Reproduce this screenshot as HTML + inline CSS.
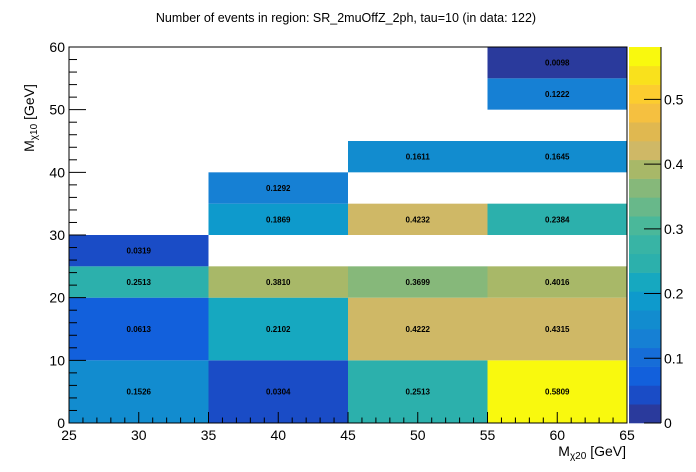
<!DOCTYPE html>
<html><head><meta charset="utf-8"><style>
body{margin:0;background:#fff}
svg{display:block;font-family:"Liberation Sans",Arial,sans-serif}
</style></head><body>
<svg id="c" width="696" height="472" xmlns="http://www.w3.org/2000/svg">
<text x="346" y="22" font-size="12.5" text-anchor="middle">Number of events in region: SR_2muOffZ_2ph, tau=10 (in data: 122)</text>
<g id="cells"></g><g id="axes"></g>
<text x="626" y="456" font-size="14" text-anchor="end">M<tspan font-size="10" dy="3">χ20</tspan><tspan dy="-3"> [GeV]</tspan></text>
<text transform="translate(34,118) rotate(-90)" font-size="14" text-anchor="middle">M<tspan font-size="10" dy="3">χ10</tspan><tspan dy="-3"> [GeV]</tspan></text>
</svg>
<script>
const xLo=[25,25,25,25,35,35,35,35,35,45,45,45,45,45,55,55,55,55,55,55,55];
const yLo=[0,10,20,25,0,10,20,30,35,0,10,20,30,40,0,10,20,30,40,50,55];
const yHi=[10,20,25,30,10,20,25,35,40,10,20,25,35,45,10,20,25,35,45,55,60];
const vals=[0.1526,0.0613,0.2513,0.0319,0.0304,0.2102,0.3810,0.1869,0.1292,0.2513,0.4222,0.3699,0.4232,0.1611,0.5809,0.4315,0.4016,0.2384,0.1645,0.1222,0.0098];
const xTicks=[25,30,35,40,45,50,55,60,65];
const yTicks=[0,10,20,30,40,50,60];
const zTicks=[0,0.1,0.2,0.3,0.4,0.5];
const palette=["#2a3a9c","#1a4cc6","#1260dc","#166dd8","#1680d4","#128ccf","#0e9acc","#16a8c0","#2cb0ac","#38b4a5","#4ab89a","#68b88a","#86b87a","#a8b868","#cfb866","#e0b850","#f5c040","#fccd2f","#f9e11c","#f9f90e"];
const X0=69,X1=627,Y0=423,Y1=47,XMIN=25,XMAX=65,YMIN=0,YMAX=60,ZMAX=0.5809;
const sx=v=>X0+(v-XMIN)/(XMAX-XMIN)*(X1-X0);
const sy=v=>Y0-(v-YMIN)/(YMAX-YMIN)*(Y0-Y1);
const CB0=629,CB1=661;
const sz=v=>Y0-v/ZMAX*(Y0-Y1);
const NS="http://www.w3.org/2000/svg";
function mk(t,a,p){const e=document.createElementNS(NS,t);for(const k in a)e.setAttribute(k,a[k]);p.appendChild(e);return e;}
function col(v){let i=Math.floor(v/ZMAX*20);if(i>19)i=19;if(i<0)i=0;return palette[i];}
const cells=document.getElementById('cells'),axes=document.getElementById('axes');
vals.forEach((v,i)=>{
 const r=mk('rect',{x:sx(xLo[i]),y:sy(yHi[i]),width:sx(xLo[i]+10)-sx(xLo[i]),height:sy(yLo[i])-sy(yHi[i]),fill:col(v)},cells);
 
 
 const t=mk('text',{x:(sx(xLo[i])+sx(xLo[i]+10))/2,y:(sy(yLo[i])+sy(yHi[i]))/2+3,'font-size':8,'font-weight':'bold','text-anchor':'middle'},cells);
 t.textContent=v.toFixed(4);
 
 
});
for(let i=0;i<20;i++){
 const lo=ZMAX*i/20,hi=ZMAX*(i+1)/20;
 const r=mk('rect',{x:CB0,y:sz(hi),width:CB1-CB0,height:sz(lo)-sz(hi)+0.3,fill:palette[i]},axes);
 
 
}
mk('rect',{x:X0,y:Y1,width:X1-X0,height:Y0-Y1,fill:'none',stroke:'#000','stroke-width':1},axes);
mk('line',{x1:CB1,y1:Y1,x2:CB1,y2:Y0,stroke:'#000'},axes);
for(let v=25;v<=65;v+=1){const maj=v%5===0;mk('line',{x1:sx(v),x2:sx(v),y1:Y0,y2:Y0-(maj?11:5.5),stroke:'#000'},axes);}
xTicks.forEach(v=>{const t=mk('text',{x:sx(v),y:Y0+17,'font-size':14,'text-anchor':'middle'},axes);t.textContent=v;
 
 });
for(let v=0;v<=60;v+=2){const maj=v%10===0;mk('line',{x1:X0,x2:X0+(maj?17:8),y1:sy(v),y2:sy(v),stroke:'#000'},axes);}
yTicks.forEach(v=>{const t=mk('text',{x:X0-4,y:sy(v)+5,'font-size':14,'text-anchor':'end'},axes);t.textContent=v;
 
 });
zTicks.forEach(v=>{mk('line',{x1:CB1-17,x2:CB1,y1:sz(v),y2:sz(v),stroke:'#000'},axes);
 const t=mk('text',{x:CB1+3,y:sz(v)+5,'font-size':14},axes);t.textContent=v;
 
 });
</script>
</body></html>
